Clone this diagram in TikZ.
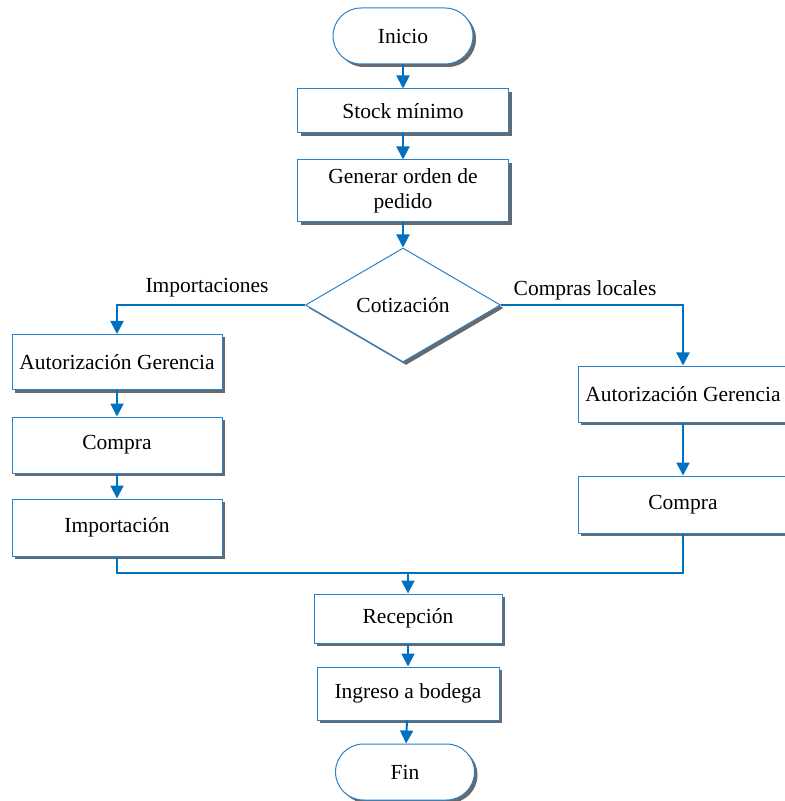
\documentclass[tikz,border=0pt]{standalone}
\usepackage{fontspec}
\setmainfont{Liberation Serif}
\usetikzlibrary{positioning,shapes.geometric,shadows,arrows.meta}
\definecolor{flowblue}{RGB}{0,112,192}
\definecolor{boxblue}{RGB}{40,130,205}
\definecolor{shadegray}{RGB}{105,105,105}

\begin{document}
\begin{tikzpicture}[x=0.5pt,y=-0.5pt]

\tikzstyle{every node}=[font=\fontsize{10.75pt}{12.5pt}\selectfont]
\tikzstyle{boxshadow}=[drop shadow={shadow xshift=1.5pt,shadow yshift=-1.5pt,
                        fill=shadegray,opacity=1}]
\tikzstyle{proc}=[rectangle, draw=boxblue, line width=0.5pt, fill=white,
                  boxshadow, inner sep=2pt, align=center]
\tikzstyle{term}=[proc, rounded corners=14pt, minimum width=70pt,
                  minimum height=28pt]
\tikzstyle{decide}=[diamond, draw=boxblue, line width=0.5pt, fill=white,
                    boxshadow, inner sep=0pt, minimum width=97.5pt,
                    minimum height=57pt]
\tikzstyle{link}=[draw=flowblue, line width=1pt]
\tikzstyle{flow}=[link, -{Triangle[length=6.5pt,width=6.5pt]}]

\useasboundingbox (0,0) rectangle (784,801);

% main column
\node[term] (ini) at (403,36) {Inicio};
\node[proc, minimum width=105.5pt, minimum height=22pt] (stock) at (403,111) {Stock mínimo};
\node[proc, minimum width=105.5pt, minimum height=31pt] (orden) at (403,191) {Generar orden de\\pedido};
\node[decide] (cot) at (403,305) {Cotización};

% importaciones
\node[proc, minimum width=105pt, minimum height=27.5pt] (autI) at (117,362) {Autorización Gerencia};
\node[proc, minimum width=105pt, minimum height=28pt] (compI) at (117,445) {Compra};
\node[proc, minimum width=105pt, minimum height=28.5pt] (imp) at (117,527.5) {Importación};

% compras locales
\node[proc, minimum width=105pt, minimum height=28pt] (autL) at (683,394) {Autorización Gerencia};
\node[proc, minimum width=105pt, minimum height=28.5pt] (compL) at (683,504.5) {Compra};

% final
\node[proc, minimum width=94pt, minimum height=24.5pt] (rec) at (408,618.5) {Recepción};
\node[proc, minimum width=91pt, minimum height=26.5pt] (ing) at (408,693.5) {Ingreso a bodega};
\node[term, minimum width=69.5pt] (fin) at (405,772) {Fin};

\node (lblI) at (207,288) {Importaciones};
\node (lblL) at (585,290) {Compras locales};

\foreach \a/\b in {ini/stock,stock/orden,orden/cot,autI/compI,compI/imp,autL/compL,rec/ing,ing/fin}{\draw[flow] (\a) -- (\b);}
\draw[flow] (cot.west) -| (autI.north);
\draw[flow] (cot.east) -| (autL.north);
\coordinate (j) at (408,573);
\draw[link] (imp.south) |- (j) -| (compL.south);
\draw[flow] (j) -- (rec.north);

\end{tikzpicture}
\end{document}
